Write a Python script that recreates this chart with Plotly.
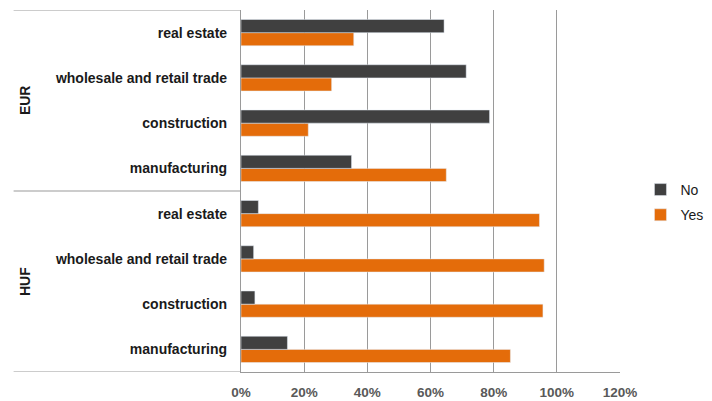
import plotly.graph_objects as go

# Share of firms answering Yes / No, by currency group and sector (percent)
groups = ["HUF", "HUF", "HUF", "HUF", "EUR", "EUR", "EUR", "EUR"]
sectors = ["manufacturing", "construction", "wholesale and retail trade", "real estate",
           "manufacturing", "construction", "wholesale and retail trade", "real estate"]
no_share = [14.7, 4.4, 4.0, 5.5, 35.0, 78.7, 71.3, 64.3]
yes_share = [85.3, 95.6, 96.0, 94.5, 65.0, 21.3, 28.7, 35.7]
x_ticks = [0, 20, 40, 60, 80, 100, 120]

keys = [f"{g} | {s}" for g, s in zip(groups, sectors)]

DARK = "#404040"
ORANGE = "#E46C0A"
GRID = "#9A9A9A"
FONT = "Liberation Sans, Arial, sans-serif"

fig = go.Figure()
fig.add_trace(go.Bar(y=keys, x=yes_share, orientation="h", name="Yes",
                     marker=dict(color=ORANGE), legendrank=2, legendgroup="yes"))
fig.add_trace(go.Bar(y=keys, x=no_share, orientation="h", name="No",
                     marker=dict(color=DARK), legendrank=1, legendgroup="no"))

# currency group labels and separators on the category side
annotations = []
shapes = []
n = len(keys)
left_edge = -0.6
boundaries = [-0.5]
for g in dict.fromkeys(groups):
    idx = [i for i, gg in enumerate(groups) if gg == g]
    center = sum(idx) / len(idx)
    annotations.append(dict(text=f"<b>{g}</b>", x=-0.571, xref="paper", y=center, yref="y",
                            textangle=-90, showarrow=False, xanchor="center", yanchor="middle",
                            font=dict(family=FONT, size=14, color="#1a1a1a")))
    boundaries.append(max(idx) + 0.5)
for b in boundaries:
    shapes.append(dict(type="line", xref="paper", yref="y", x0=left_edge, x1=0, y0=b, y1=b,
                       line=dict(color=GRID, width=1.2)))

fig.update_layout(
    width=712, height=401,
    margin=dict(l=241, r=92, t=10, b=29, autoexpand=False),
    paper_bgcolor="white", plot_bgcolor="white",
    barmode="group", bargap=0.42, bargroupgap=0,
    font=dict(family=FONT, size=14, color="#1a1a1a"),
    xaxis=dict(range=[0, 120], tickvals=x_ticks, ticktext=[f"<b>{v}%</b>" for v in x_ticks],
               showgrid=True, gridcolor=GRID, gridwidth=1.2,
               showline=True, linecolor=GRID, linewidth=1.2,
               zeroline=False, ticks="", ticklabelstandoff=8, automargin=False,
               tickfont=dict(family=FONT, size=13.5, color="#595959")),
    yaxis=dict(range=[-0.5, n - 0.5], categoryorder="array", categoryarray=keys,
               tickvals=keys, ticktext=[f"<b>{s}</b>" for s in sectors],
               showgrid=False, showline=True, linecolor=GRID, linewidth=1.2,
               zeroline=False, ticks="", ticklabelstandoff=10, automargin=False,
               tickfont=dict(family=FONT, size=14, color="#1a1a1a")),
    legend=dict(x=1.054, xanchor="left", y=0.547, yanchor="top",
                traceorder="grouped", tracegroupgap=4,
                font=dict(family=FONT, size=14, color="#1a1a1a"),
                bgcolor="rgba(0,0,0,0)"),
    annotations=annotations,
    shapes=shapes,
)

fig.write_html("out.html")
